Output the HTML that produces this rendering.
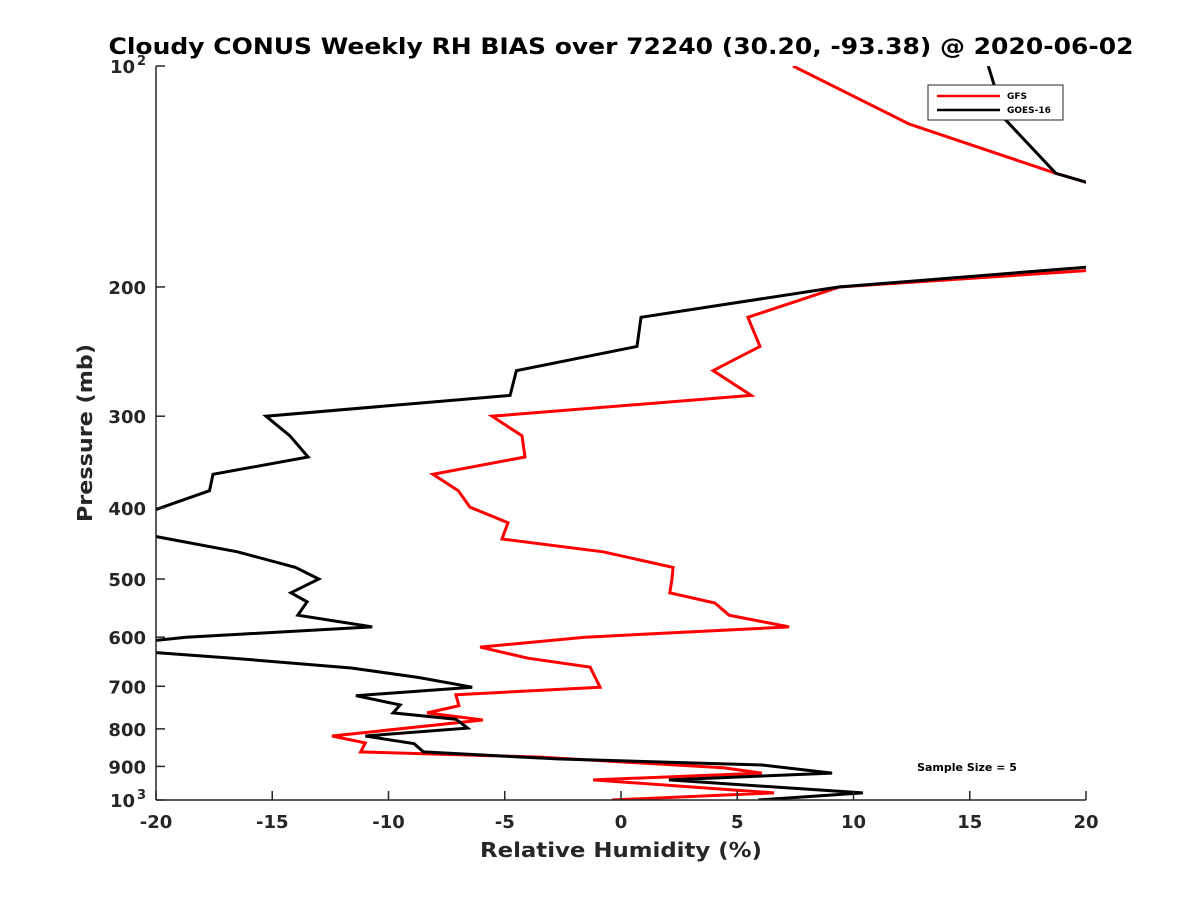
<!DOCTYPE html>
<html><head><meta charset="utf-8"><style>
body{margin:0;background:#fff}
svg text{font-family:"DejaVu Sans","Liberation Sans",sans-serif;font-weight:bold;fill:#262626}
</style></head><body>
<svg width="1200" height="900" viewBox="0 0 1200 900">
<defs><clipPath id="plotclip"><rect x="156" y="66" width="930" height="734"/></clipPath></defs>
<rect width="1200" height="900" fill="#fff"/>
<text x="621" y="54" text-anchor="middle" font-size="22" textLength="1025" lengthAdjust="spacingAndGlyphs" style="fill:#000">Cloudy CONUS Weekly RH BIAS over 72240 (30.20, -93.38) @ 2020-06-02</text>
<g id="series" clip-path="url(#plotclip)"></g>
<g id="axes"></g>
<text x="92" y="433" text-anchor="middle" font-size="20" textLength="178" lengthAdjust="spacingAndGlyphs" transform="rotate(-90 92 433)">Pressure (mb)</text>
<text x="621" y="857" text-anchor="middle" font-size="20" textLength="282" lengthAdjust="spacingAndGlyphs">Relative Humidity (%)</text>
<text x="967" y="771" text-anchor="middle" font-size="11" style="fill:#000">Sample Size = 5</text>
<g>
<rect x="928" y="85" width="135" height="35" fill="#fff" stroke="#262626" stroke-width="1"/>
<g><line x1="937" y1="96" x2="1000" y2="96" stroke="#f00" stroke-width="2.5"/><text x="1007" y="99" font-size="9" style="fill:#000">GFS</text></g>
<g><line x1="937" y1="110" x2="1000" y2="110" stroke="#000" stroke-width="2.5"/><text x="1007" y="113" font-size="9" style="fill:#000">GOES-16</text></g>
</g>
</svg>
<script>
const xTicks=[-20,-15,-10,-5,0,5,10,15,20];
const yTicks=[100,200,300,400,500,600,700,800,900,1000];
const yTickLabels=["10","200","300","400","500","600","700","800","900","10"];
const yTickSup=["2","","","","","","","","","3"];
const gfsPressure=[100,120,140,144,170,190,200,220,241,260,281,300,319,341,360,379,399,419,441,459,482,501,522,539,560,581,600,619,641,659,702,719,744,761,778,818,836,860,874,904,919,939,978,1000];
const gfsValues=[7.4,12.4,18.7,20,25,20,9.4,5.46,5.98,3.96,5.6,-5.55,-4.26,-4.13,-8.09,-7.0,-6.5,-4.86,-5.12,-0.77,2.24,2.19,2.1,4.04,4.65,7.23,-1.55,-6.06,-4.0,-1.33,-0.9,-7.1,-6.97,-8.34,-5.94,-12.43,-11.0,-11.2,-3.5,4.4,6.06,-1.2,6.58,-0.4];
const goesPressure=[100,118,140,144,170,188,200,220,241,260,281,300,319,341,360,379,402,420,459,482,500,522,537,560,581,600,620,641,661,681,702,721,742,761,776,798,818,838,860,879,896,919,939,978,1000];
const goesValues=[15.8,16.5,18.7,20,26,20,9.35,0.86,0.69,-4.5,-4.77,-15.27,-14.24,-13.46,-17.55,-17.7,-20,-23,-16.5,-14.0,-13.0,-14.2,-13.5,-13.9,-10.7,-18.7,-23,-16.7,-11.6,-8.7,-6.4,-11.4,-9.5,-9.8,-7.1,-6.6,-11.0,-8.9,-8.5,-2.75,6.06,9.08,2.06,10.4,5.9];
const NS='http://www.w3.org/2000/svg';
const X0=156,X1=1086,Y0=66,Y1=800;
function xs(v){return X0+(v+20)/40*(X1-X0);}
function ys(p){return Y0+(Math.log10(p)-2)*(Y1-Y0);}
const ser=document.getElementById('series'), ax=document.getElementById('axes');
function mk(t,a,parent){const e=document.createElementNS(NS,t);for(const k in a)e.setAttribute(k,a[k]);parent.appendChild(e);return e;}
function line(P,V,color,name){
  const pts=P.map((p,i)=>xs(V[i]).toFixed(1)+','+ys(p).toFixed(1)).join(' ');
  const e=mk('polyline',{points:pts,fill:'none',stroke:color,'stroke-width':3,'stroke-linejoin':'miter'},ser);
  
  
}
line(gfsPressure,gfsValues,'#f00','gfs-line');
line(goesPressure,goesValues,'#000','goes16-line');
const xa=mk('line',{x1:X0,y1:Y1,x2:X1,y2:Y1,stroke:'#262626','stroke-width':1.5},ax);


const ya=mk('line',{x1:X0,y1:Y0,x2:X0,y2:Y1,stroke:'#262626','stroke-width':1.5},ax);


xTicks.forEach(v=>{
  const x=xs(v);
  mk('line',{x1:x,y1:Y1,x2:x,y2:Y1-9,stroke:'#262626','stroke-width':1.5},ax);
  const t=mk('text',{x:x,y:Y1+28,'text-anchor':'middle','font-size':18},ax);
  t.textContent=String(v);
  
  
});
yTicks.forEach((p,i)=>{
  const y=ys(p);
  mk('line',{x1:X0,y1:y,x2:X0+9,y2:y,stroke:'#262626','stroke-width':1.5},ax);
  const sup=yTickSup[i];
  const t=mk('text',{x:X0-10-(sup?11:0),y:y+7,'text-anchor':'end','font-size':18},ax);
  t.textContent=yTickLabels[i];
  
  
  if(sup){
    const s=mk('text',{x:X0-10,y:y-1,'text-anchor':'end','font-size':13},ax);
    s.textContent=sup;
    
    
  }
});
</script>
</body></html>
